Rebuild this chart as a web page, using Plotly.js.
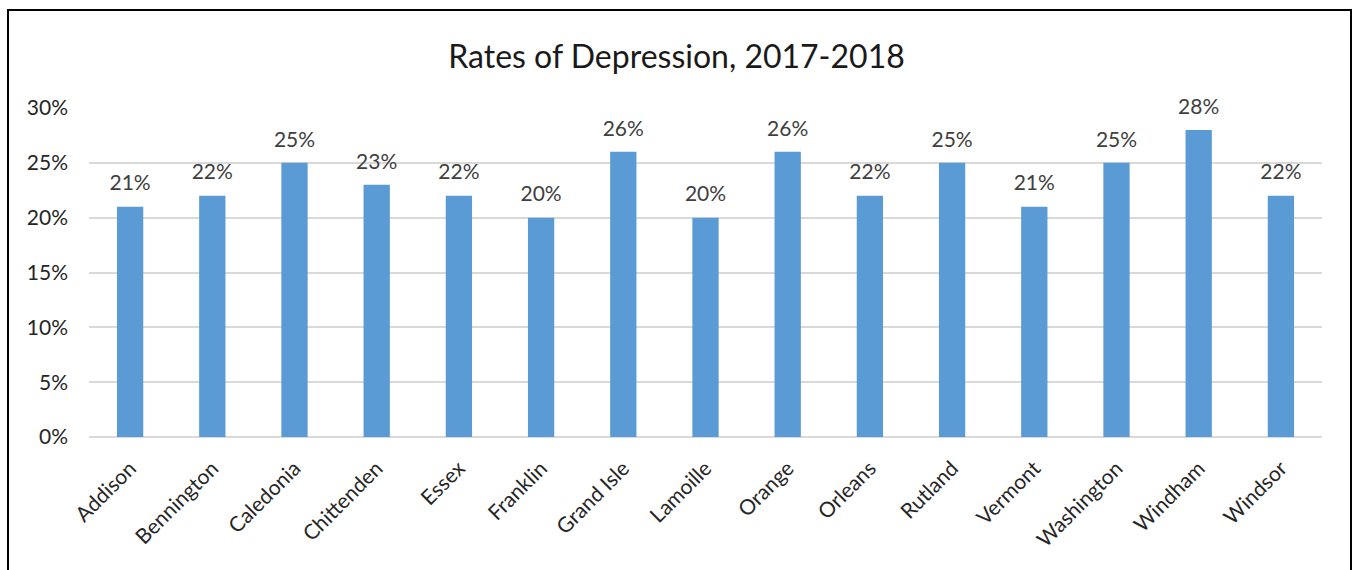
<!DOCTYPE html>
<html>
<head>
<meta charset="utf-8">
<script src="https://cdn.plot.ly/plotly-3.0.1.min.js"></script>
<style>
  body { margin: 0; background: #fff; }
  #wrap { position: relative; width: 1353px; height: 570px; overflow: hidden; }
  #chart { position: absolute; left: 0; top: 0; width: 1353px; height: 570px; }
  #frame { position: absolute; left: 7px; top: 9px; width: 1345px; height: 600px; border: 2px solid #000; box-sizing: border-box; pointer-events: none; }
</style>
</head>
<body>
<div id="wrap">
  <div id="chart"></div>
  <div id="frame"></div>
</div>
<script>
const counties = ["Addison","Bennington","Caledonia","Chittenden","Essex","Franklin","Grand Isle","Lamoille","Orange","Orleans","Rutland","Vermont","Washington","Windham","Windsor"];
const rates = [21,22,25,23,22,20,26,20,26,22,25,21,25,28,22];
const yTickVals = [0,5,10,15,20,25,30];
const yTickText = ["0%","5%","10%","15%","20%","25%","30%"];
const chartTitle = "Rates of Depression, 2017-2018";

const font = "Lato, 'Open Sans', 'Liberation Sans', sans-serif";

Plotly.newPlot("chart", [{
  type: "bar",
  x: counties,
  y: rates,
  marker: { color: "#5B9BD5" },
  hoverinfo: "x+y"
}, {
  type: "scatter",
  mode: "markers+text",
  x: counties,
  y: rates,
  text: rates.map(v => v + "%"),
  textposition: "top center",
  cliponaxis: false,
  marker: { size: 16, opacity: 0, color: "#5B9BD5" },
  textfont: { family: font, size: 21, color: "#404040" },
  hoverinfo: "skip"
}], {
  width: 1353,
  height: 570,
  margin: { l: 89, r: 31, t: 108, b: 133 },
  paper_bgcolor: "rgba(0,0,0,0)",
  plot_bgcolor: "rgba(0,0,0,0)",
  bargap: 0.68,
  showlegend: false,
  title: { text: chartTitle, font: { family: font, size: 32, color: "#1a1a1a" }, x: 0.5, xanchor: "center", y: 0.9, yanchor: "middle" },
  xaxis: {
    range: [-0.5, counties.length - 0.5],
    tickangle: -45,
    tickfont: { family: font, size: 21, color: "#262626" },
    showgrid: false,
    showline: false,
    zeroline: false,
    ticks: "",
    ticklabelstandoff: 14
  },
  yaxis: {
    range: [0, 30],
    tickvals: yTickVals,
    ticktext: yTickText,
    tickfont: { family: font, size: 21, color: "#262626" },
    showgrid: true,
    gridcolor: "#D9D9D9",
    gridwidth: 2,
    zeroline: true,
    zerolinecolor: "#D9D9D9",
    zerolinewidth: 2,
    showline: false,
    ticks: "",
    ticklabelstandoff: 20
  }
}, { displayModeBar: false, staticPlot: true });
</script>
</body>
</html>
